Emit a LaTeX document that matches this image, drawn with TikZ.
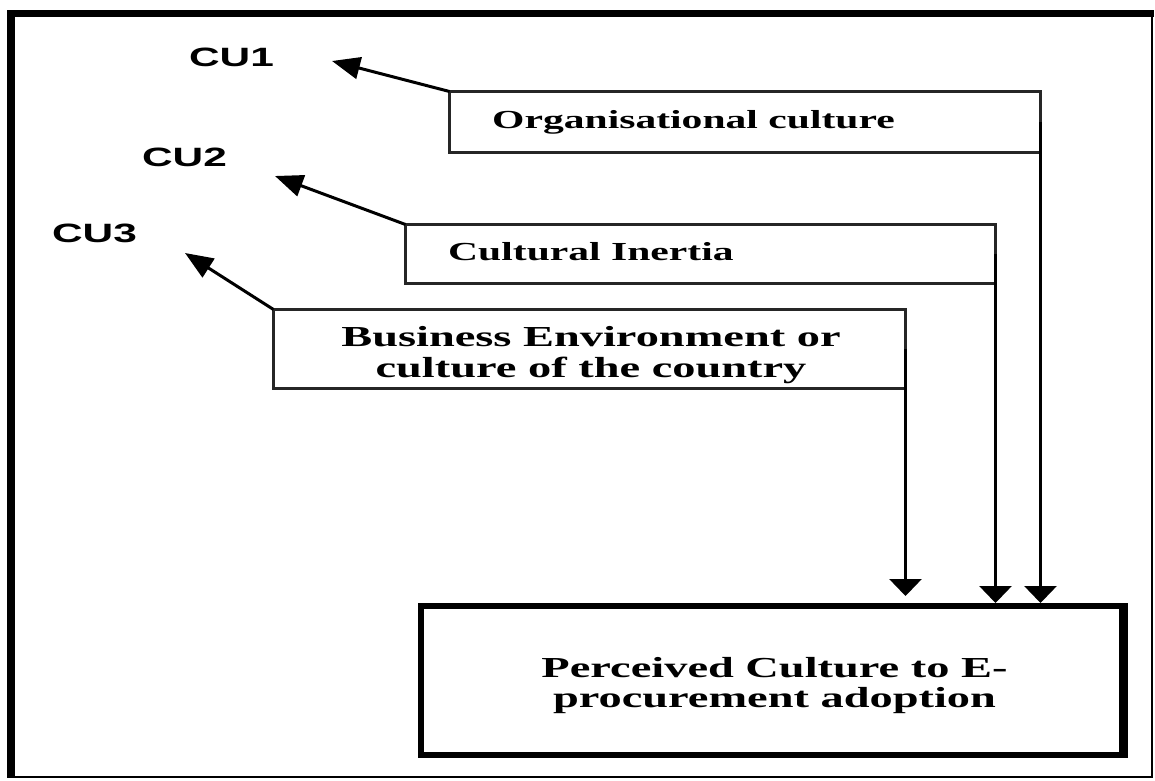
\documentclass[tikz,border=0pt]{standalone}
\usepackage{fontspec}
\setmainfont{Liberation Serif}
\newfontfamily\cufont{Liberation Sans}
\usetikzlibrary{arrows.meta}
\newcommand\sxx[1]{\scalebox{1.6}[1]{#1}}
\begin{document}
\begin{tikzpicture}[x=1pt,y=-1pt,
  smallbox/.style={draw=black!85, line width=3pt, inner sep=0pt, outer sep=0pt},
  bigbox/.style={draw=black, line width=6pt, inner sep=0pt, outer sep=0pt},
  culabel/.style={font=\cufont\bfseries\fontsize{26.5}{30}\selectfont, inner sep=0pt, anchor=base},
  smalltext/.style={font=\bfseries\fontsize{26}{30}\selectfont, inner sep=0pt, anchor=base west},
  bigtext/.style={font=\bfseries\fontsize{29}{30}\selectfont, inner sep=0pt, anchor=base},
  diagarrow/.style={line width=3pt, -{Triangle[length=28pt,width=22pt]}},
  downarrow/.style={line width=3pt, -{Triangle[length=17pt,width=32pt]}}]
\useasboundingbox (0,0) rectangle (1155,780);
% outer frame
\fill[black] (7,10) rectangle (15,778);
\fill[black] (7,10) rectangle (1154,17);
\draw[line width=2pt] (1152,17) -- (1152,777) -- (7,777);
% boxes
\node[smallbox, minimum width=591pt, minimum height=61pt] (org) at (745,122) {};
\node[smallbox, minimum width=590pt, minimum height=59pt] (cult) at (700.5,254) {};
\node[smallbox, minimum width=632pt, minimum height=79pt] (biz) at (589.5,349) {};
\node[bigbox, minimum width=701pt, minimum height=149pt] (perc) at (771.5,680.5) {};
\fill[black] (1122,603) rectangle (1128,758);
% texts
\node[smalltext] (orgt) at (492,128) {\sxx{Organisational culture}};
\node[smalltext] (cultt) at (448,260) {\sxx{Cultural Inertia}};
\node[bigtext] (bizt1) at (591,346) {\sxx{Business Environment or}};
\node[bigtext] (bizt2) at (591,377) {\sxx{culture of the country}};
\node[bigtext] (perct1) at (774.5,677) {\sxx{Perceived Culture to E-}};
\node[bigtext] (perct2) at (774.5,707) {\sxx{procurement adoption}};
% CU labels
\node[culabel] (cu1) at (231.5,66) {\sxx{CU1}};
\node[culabel] (cu2) at (184.5,166) {\sxx{CU2}};
\node[culabel] (cu3) at (94.5,242) {\sxx{CU3}};
% arrow tips (free ends)
\coordinate (tip1) at (332,61);
\coordinate (tip2) at (275,176);
\coordinate (tip3) at (185,253);
\draw[diagarrow] (org.north west) -- (tip1);
\draw[diagarrow] (cult.north west) -- (tip2);
\draw[diagarrow] (biz.north west) -- (tip3);
% down arrows
\draw[downarrow, shorten >=3pt] (org.east) -- (org.east |- perc.north);
\draw[downarrow, shorten >=3pt] (cult.east) -- (cult.east |- perc.north);
\draw[downarrow, shorten >=10pt] (biz.east) -- (biz.east |- perc.north);
\end{tikzpicture}
\end{document}
